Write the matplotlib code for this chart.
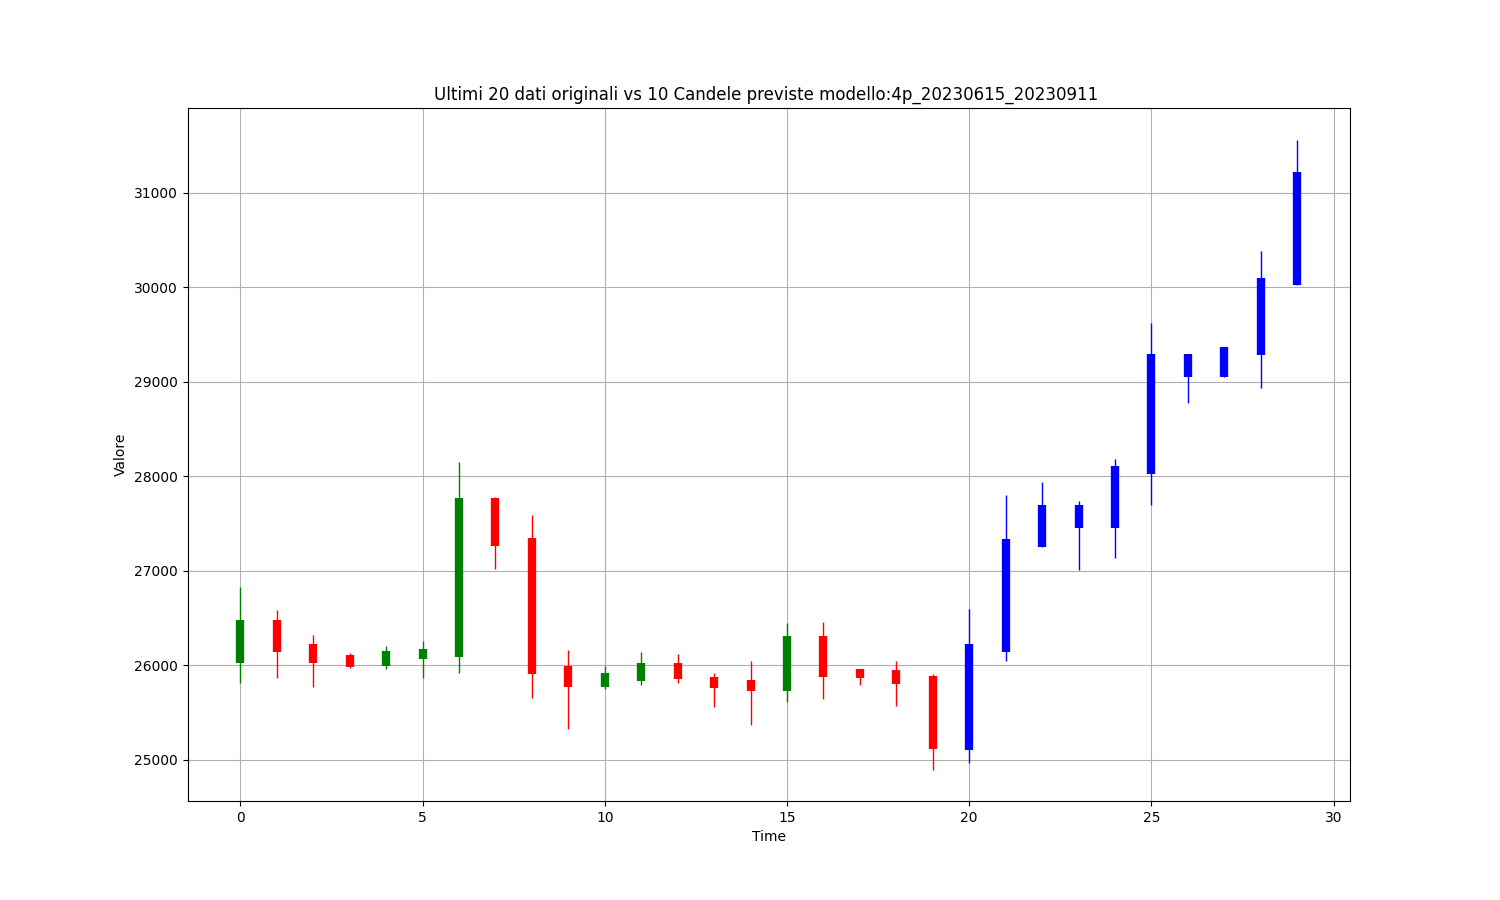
import matplotlib
matplotlib.use("Agg")
import matplotlib.pyplot as plt
import numpy as np

# Ultimi 20 dati originali
orig_open  = [26028, 26480, 26226, 26109, 25989, 26067, 26091, 27770, 27347, 25993,
              25766, 25836, 26024, 25876, 25844, 25727, 26312, 25961, 25950, 25886]
orig_close = [26480, 26144, 26028, 25982, 26155, 26173, 27770, 27263, 25908, 25772,
              25918, 26024, 25857, 25762, 25727, 26312, 25876, 25865, 25801, 25120]
orig_high  = [26832, 26585, 26321, 26130, 26200, 26258, 28154, 27784, 27591, 26166,
              25993, 26145, 26120, 25918, 26049, 26453, 26464, 25961, 26049, 25907]
orig_low   = [25813, 25866, 25771, 25975, 25961, 25866, 25919, 27019, 25654, 25322,
              25748, 25790, 25812, 25556, 25365, 25610, 25641, 25790, 25567, 24898]

# 10 candele previste
pred_open  = [25109, 26141, 27248, 27450, 27450, 28025, 29052, 29052, 29284, 30022]
pred_close = [26226, 27336, 27695, 27695, 28110, 29291, 29291, 29365, 30103, 31222]
pred_high  = [26599, 27801, 27943, 27741, 28184, 29618, 29298, 29365, 30388, 31565]
pred_low   = [24963, 26045, 27248, 27014, 27131, 27698, 28774, 29052, 28935, 30022]

n_orig = len(orig_open)
n_pred = len(pred_open)

fig, ax = plt.subplots(figsize=(15, 9), dpi=100)

# candele originali: verde se sale, rosso se scende
x_orig = np.arange(n_orig)
colors = ['green' if c >= o else 'red' for o, c in zip(orig_open, orig_close)]
ax.vlines(x_orig, orig_low, orig_high, colors=colors, linewidth=1)
ax.vlines(x_orig, orig_open, orig_close, colors=colors, linewidth=6)

# candele previste in blu
x_pred = np.arange(n_orig, n_orig + n_pred)
ax.vlines(x_pred, pred_low, pred_high, colors='blue', linewidth=1)
ax.vlines(x_pred, pred_open, pred_close, colors='blue', linewidth=6)

ax.set_title("Ultimi 20 dati originali vs 10 Candele previste modello:4p_20230615_20230911 ")
ax.set_xlabel("Time")
ax.set_ylabel("Valore")
ax.grid(True)

fig.savefig("out.png")
